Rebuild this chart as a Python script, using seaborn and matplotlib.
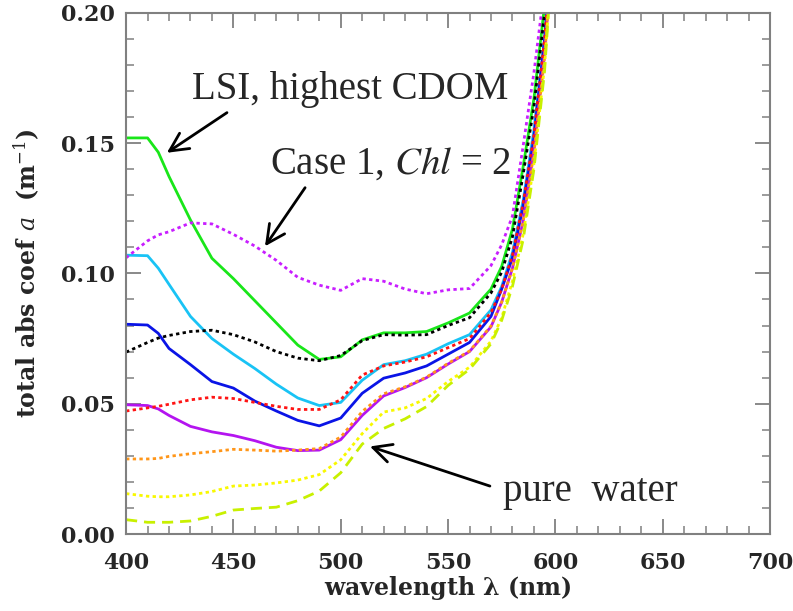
import numpy as np
import pandas as pd
import matplotlib
matplotlib.use('Agg')
import matplotlib.pyplot as plt
import seaborn as sns
from matplotlib.ticker import MultipleLocator, FormatStrFormatter

# --- DATA ---
wavelength = [400, 410, 415, 420, 430, 440, 450, 460, 470, 480, 490, 500, 510,
              520, 530, 540, 550, 560, 570, 575, 580, 585, 590, 595, 600]

lsi_green = [0.152, 0.152, 0.1465, 0.1372, 0.1205, 0.1058, 0.098, 0.0895, 0.081, 0.0725,
             0.067, 0.068, 0.0745, 0.0772, 0.0772, 0.0777, 0.081, 0.0848, 0.094, 0.1027,
             0.117, 0.141, 0.167, 0.203, 0.24]
lsi_cyan = [0.107, 0.1068, 0.102, 0.0958, 0.0835, 0.075, 0.069, 0.0635, 0.0575, 0.0522,
            0.0493, 0.0505, 0.059, 0.065, 0.0665, 0.069, 0.073, 0.0765, 0.086, 0.095,
            0.108, 0.128, 0.155, 0.19, 0.24]
lsi_blue = [0.0805, 0.0802, 0.077, 0.0712, 0.065, 0.0585, 0.056, 0.051, 0.0472, 0.0436,
            0.0415, 0.0445, 0.054, 0.0598, 0.0618, 0.0645, 0.069, 0.0735, 0.0835, 0.094,
            0.106, 0.126, 0.152, 0.19, 0.24]
lsi_purple = [0.0496, 0.0493, 0.048, 0.0455, 0.0413, 0.0392, 0.0378, 0.0358, 0.0333, 0.032,
              0.0322, 0.0362, 0.0455, 0.053, 0.0562, 0.06, 0.0652, 0.07, 0.0795, 0.089,
              0.102, 0.12, 0.147, 0.185, 0.24]
case1_chl2 = [0.106, 0.1125, 0.1148, 0.116, 0.1194, 0.119, 0.115, 0.1105, 0.105, 0.0985,
              0.0955, 0.0935, 0.098, 0.097, 0.094, 0.0922, 0.0937, 0.0942, 0.103, 0.111,
              0.122, 0.149, 0.177, 0.21, 0.25]
case_black = [0.0698, 0.0735, 0.0752, 0.0762, 0.0777, 0.0782, 0.0765, 0.0737, 0.07, 0.0675,
              0.0665, 0.0685, 0.0742, 0.0765, 0.0763, 0.0765, 0.08, 0.083, 0.0925, 0.1005,
              0.114, 0.138, 0.164, 0.2, 0.24]
case_red = [0.0472, 0.0484, 0.049, 0.0498, 0.0515, 0.0525, 0.052, 0.0505, 0.049, 0.0478,
            0.0478, 0.0515, 0.061, 0.0645, 0.066, 0.068, 0.0715, 0.075, 0.085, 0.094,
            0.107, 0.127, 0.153, 0.19, 0.24]
case_orange = [0.0288, 0.0288, 0.029, 0.0298, 0.0308, 0.0316, 0.0325, 0.0322, 0.0318, 0.0322,
               0.0328, 0.0372, 0.047, 0.0538, 0.0565, 0.0602, 0.0655, 0.0702, 0.0798, 0.089,
               0.102, 0.12, 0.146, 0.183, 0.24]
case_yellow = [0.0155, 0.0145, 0.0143, 0.0143, 0.015, 0.0163, 0.0184, 0.0188, 0.0196, 0.0207,
               0.0228, 0.0285, 0.0385, 0.0468, 0.0484, 0.052, 0.0585, 0.064, 0.074, 0.083,
               0.097, 0.115, 0.142, 0.18, 0.24]
pure_water = [0.0055, 0.0045, 0.0045, 0.0045, 0.005, 0.0068, 0.0092, 0.0098, 0.0103, 0.0128,
              0.0165, 0.0235, 0.0345, 0.0405, 0.0442, 0.0489, 0.057, 0.0632, 0.073, 0.082,
              0.095, 0.113, 0.14, 0.178, 0.24]

series = {
    'lsi_green': lsi_green,
    'lsi_cyan': lsi_cyan,
    'lsi_blue': lsi_blue,
    'lsi_purple': lsi_purple,
    'case1_chl2': case1_chl2,
    'case_black': case_black,
    'case_red': case_red,
    'case_orange': case_orange,
    'case_yellow': case_yellow,
    'pure_water': pure_water,
}

palette = {
    'lsi_green': '#19e619',
    'lsi_cyan': '#19c3f5',
    'lsi_blue': '#0a14e6',
    'lsi_purple': '#b414f0',
    'case1_chl2': '#c81eff',
    'case_black': '#000000',
    'case_red': '#ff1414',
    'case_orange': '#ff9619',
    'case_yellow': '#f8f800',
    'pure_water': '#c8f000',
}
dotted = (1.2, 1.2)
dash_styles = {
    'lsi_green': '', 'lsi_cyan': '', 'lsi_blue': '', 'lsi_purple': '',
    'case1_chl2': dotted, 'case_black': dotted, 'case_red': dotted,
    'case_orange': dotted, 'case_yellow': dotted,
    'pure_water': (4, 2.5),
}

df = pd.concat(
    [pd.DataFrame({'wavelength': wavelength, 'a': vals, 'series': name}) for name, vals in series.items()],
    ignore_index=True,
)

# --- PLOT ---
sns.set_theme(style='ticks')
plt.rcParams['font.family'] = ['DejaVu Serif']
plt.rcParams['mathtext.fontset'] = 'dejavuserif'

fig = plt.figure(figsize=(7.93, 6.11), dpi=100)
ax = fig.add_axes([0.159, 0.126, 0.812, 0.853])

sns.lineplot(data=df, x='wavelength', y='a', hue='series', style='series',
             hue_order=list(series), style_order=list(series),
             palette=palette, dashes=dash_styles, linewidth=2, legend=False,
             sort=False, estimator=None, ax=ax)

ax.set_xlim(400, 700)
ax.set_ylim(0, 0.20)
ax.xaxis.set_major_locator(MultipleLocator(50))
ax.xaxis.set_minor_locator(MultipleLocator(10))
ax.yaxis.set_major_locator(MultipleLocator(0.05))
ax.yaxis.set_minor_locator(MultipleLocator(0.01))
ax.yaxis.set_major_formatter(FormatStrFormatter('%.2f'))

ax.tick_params(which='both', direction='in', top=True, right=True, color='#808080',
               labelsize=16)
ax.tick_params(axis='x', pad=13)
ax.tick_params(axis='y', pad=8)
ax.tick_params(which='major', length=11, width=1.3)
ax.tick_params(which='minor', length=6, width=1.1)
for lab in ax.get_xticklabels() + ax.get_yticklabels():
    lab.set_fontweight('bold')
for sp in ax.spines.values():
    sp.set_color('#808080')
    sp.set_linewidth(1.5)

ax.set_xlabel(r'wavelength $\mathbf{\lambda}$ (nm)', fontsize=17, fontweight='bold', labelpad=0)
ax.set_ylabel(r'total abs coef $a$  (m$^{-1}$)', fontsize=17, fontweight='bold', labelpad=14)

# --- ANNOTATIONS ---
arrow = dict(arrowstyle='->,head_length=1.1,head_width=0.55', color='black', lw=2,
             shrinkA=0, shrinkB=0)
ax.annotate('', xy=(419, 0.1463), xytext=(447, 0.1617), arrowprops=arrow)
ax.annotate('', xy=(464.7, 0.1104), xytext=(483.4, 0.1329), arrowprops=arrow)
ax.annotate('', xy=(513.6, 0.0336), xytext=(569.5, 0.0184), arrowprops=arrow)

ax.text(430.7, 0.1705, 'LSI, highest CDOM', family='Liberation Serif', fontsize=28,
        ha='left', va='center')
ax.text(467.1, 0.1420, r'Case 1, $\mathit{Chl}$ = 2', family='Liberation Serif', fontsize=28,
        ha='left', va='center', math_fontfamily='stix')
ax.text(575.6, 0.0165, 'pure  water', family='Liberation Serif', fontsize=28,
        ha='left', va='center')

fig.savefig('out.png', dpi=100)
